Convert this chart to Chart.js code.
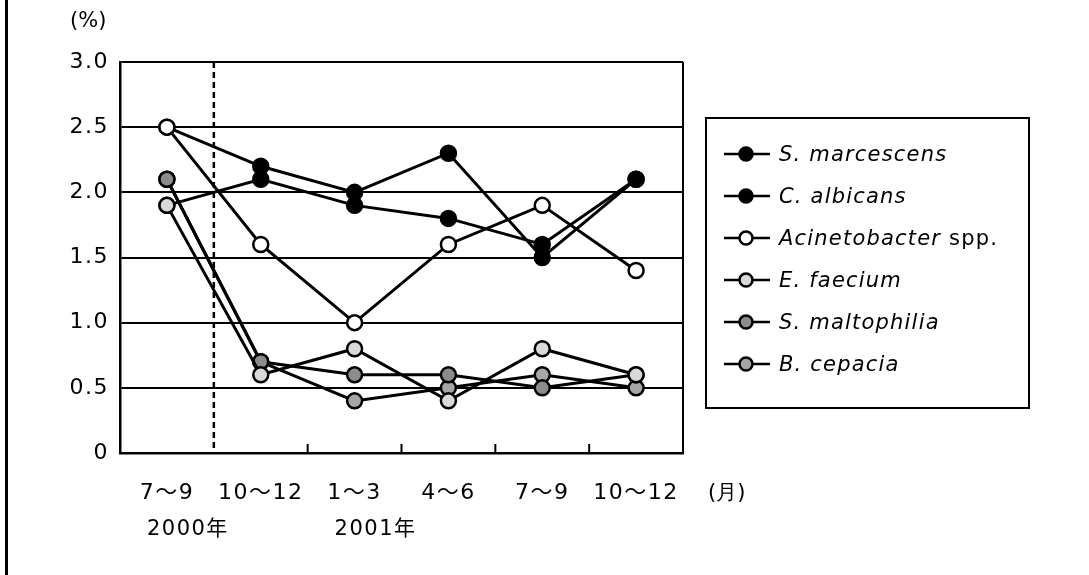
<!DOCTYPE html>
<html>
<head>
<meta charset="utf-8">
<script src="https://cdn.jsdelivr.net/npm/chart.js@4"></script>
<style>
    body { margin: 0; background: #fff; }
    #wrap { position: relative; width: 1089px; height: 575px; overflow: hidden; }
    #leftRule { position: absolute; left: 5px; top: 0; width: 3px; height: 575px; background: #000; }
    .lbl { position: absolute; font-family: "DejaVu Sans", sans-serif; font-size: 21px; color: #000; }
    #legend {
        position: absolute; left: 705px; top: 117px; width: 321px; height: 288px;
        border: 2px solid #000; box-sizing: content-box;
    }
    .item { position: absolute; left: 15px; height: 24px; display: flex; align-items: center;
        font-family: "DejaVu Sans", sans-serif; font-size: 21px; letter-spacing: 1.2px; }
    .item svg { margin-right: 7px; }
</style>
</head>
<body>
<div id="wrap">
    <canvas id="chart" width="1089" height="575"></canvas>
    <div id="leftRule"></div>
    <div class="lbl" style="left:70px; top:8px;">(%)</div>
    <div class="lbl" style="left:708px; top:478px;">(月)</div>
    <div id="legend"></div>
</div>
<script>
const periods = ['7～9', '10～12', '1～3', '4～6', '7～9', '10～12'];
const years = ['2000年', '', '2001年', '', '', ''];

const seriesNames = ['S. marcescens', 'C. albicans', 'Acinetobacter spp.', 'E. faecium', 'S. maltophilia', 'B. cepacia'];
const sMarcescens = [2.5, 2.2, 2.0, 2.3, 1.5, 2.1];
const cAlbicans = [1.9, 2.1, 1.9, 1.8, 1.6, 2.1];
const acinetobacter = [2.5, 1.6, 1.0, 1.6, 1.9, 1.4];
const eFaecium = [1.9, 0.6, 0.8, 0.4, 0.8, 0.6];
const sMaltophilia = [2.1, 0.7, 0.6, 0.6, 0.5, 0.6];
const bCepacia = [2.1, 0.7, 0.4, 0.5, 0.6, 0.5];

const yTicks = [0, 0.5, 1.0, 1.5, 2.0, 2.5, 3.0];

const seriesData = [sMarcescens, cAlbicans, acinetobacter, eFaecium, sMaltophilia, bCepacia];
const markerFill = ['#000000', '#000000', '#ffffff', '#d9d9d9', '#8c8c8c', '#a6a6a6'];
const drawOrder = [2, 2, 1, 1, 1, 1];

// frame, dashed year divider, inner ticks and year captions
const framePlugin = {
    id: 'frame',
    beforeDraw(chart) {
        // the scanned labels are set quite wide
        chart.ctx.letterSpacing = '1.5px';
    },
    beforeDatasetsDraw(chart) {
        const { ctx, chartArea: a, scales: { x } } = chart;
        ctx.save();
        ctx.strokeStyle = '#000';
        ctx.lineWidth = 2;
        ctx.beginPath();
        ctx.moveTo(a.right, a.top);
        ctx.lineTo(a.right, a.bottom);
        ctx.stroke();

        for (let i = 1; i < periods.length; i++) {
            const bx = (x.getPixelForValue(i - 1) + x.getPixelForValue(i)) / 2;
            ctx.beginPath();
            if (i === 1) {
                ctx.lineWidth = 2.5;
                ctx.setLineDash([6, 4]);
                ctx.moveTo(bx, a.top);
                ctx.lineTo(bx, a.bottom);
            } else {
                ctx.lineWidth = 2;
                ctx.setLineDash([]);
                ctx.moveTo(bx, a.bottom);
                ctx.lineTo(bx, a.bottom - 9);
            }
            ctx.stroke();
        }
        ctx.restore();
    },
    afterDraw(chart) {
        const { ctx, scales: { x } } = chart;
        ctx.save();
        ctx.fillStyle = '#000';
        ctx.font = '21px "DejaVu Sans", "Noto Sans CJK JP", sans-serif';
        ctx.textAlign = 'left';
        ctx.textBaseline = 'middle';
        years.forEach((t, i) => {
            if (t) ctx.fillText(t, x.getPixelForValue(i) - 20, 530);
        });
        ctx.restore();
        ctx.letterSpacing = '0px';
    }
};

new Chart(document.getElementById('chart'), {
    type: 'line',
    data: {
        labels: periods,
        datasets: seriesData.map((d, i) => ({
            label: seriesNames[i],
            data: d,
            order: drawOrder[i],
            borderColor: '#000',
            borderWidth: 3,
            tension: 0,
            pointRadius: 7.5,
            pointBorderWidth: 2.5,
            pointBorderColor: '#000',
            pointBackgroundColor: markerFill[i]
        }))
    },
    options: {
        responsive: false,
        animation: false,
        layout: { padding: { left: 0, top: 62, right: 406, bottom: 0 } },
        plugins: { legend: { display: false }, tooltip: { enabled: false } },
        scales: {
            x: {
                offset: true,
                grid: { display: false, drawTicks: false },
                border: { color: '#000', width: 2.5 },
                ticks: {
                    color: '#000',
                    padding: 27,
                    font: { family: '"DejaVu Sans", "Noto Sans CJK JP", sans-serif', size: 22 }
                },
                afterFit(s) { s.height = 122; }
            },
            y: {
                min: 0,
                max: 3,
                grid: { color: '#000', lineWidth: 2, drawTicks: false },
                border: { color: '#000', width: 2.5 },
                afterBuildTicks(s) { s.ticks = yTicks.map(v => ({ value: v })); },
                ticks: {
                    color: '#000',
                    padding: 11,
                    font: { family: '"DejaVu Sans", sans-serif', size: 22 },
                    callback: v => (v === 0 ? '0' : v.toFixed(1))
                },
                afterFit(s) { s.width = 120; }
            }
        }
    },
    plugins: [framePlugin]
});

// legend box
const legendEl = document.getElementById('legend');
seriesNames.forEach((name, i) => {
    const row = document.createElement('div');
    row.className = 'item';
    row.style.top = (23 + i * 42) + 'px';
    const sp = name.endsWith(' spp.');
    const italic = sp ? name.slice(0, -5) : name;
    row.innerHTML =
        '<svg width="50" height="20"><line x1="2" y1="10" x2="48" y2="10" stroke="#000" stroke-width="2.5"/>' +
        '<circle cx="24" cy="10" r="6.5" fill="' + markerFill[i] + '" stroke="#000" stroke-width="2.5"/></svg>' +
        '<span><i>' + italic + '</i>' + (sp ? ' spp.' : '') + '</span>';
    legendEl.appendChild(row);
});
</script>
</body>
</html>
